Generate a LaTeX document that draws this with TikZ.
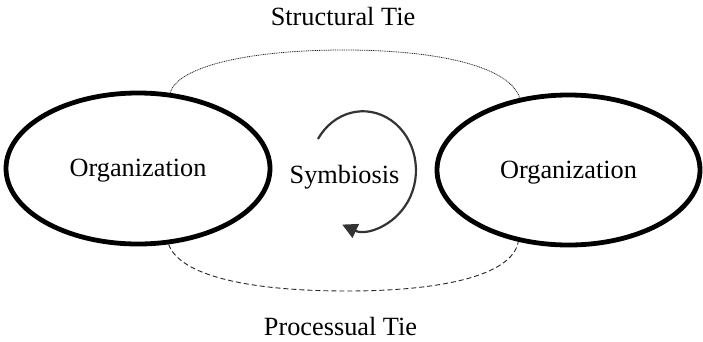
\documentclass[tikz,border=0pt]{standalone}
\usepackage{fontspec}
\setmainfont{Liberation Serif}
\usetikzlibrary{shapes.geometric,arrows.meta}
\begin{document}
\begin{tikzpicture}[x=1pt,y=-1pt,
  org/.style={ellipse,draw=black,line width=4.8pt,fill=none,inner sep=0pt,
    text height=22.5pt,text depth=5.7pt,font=\fontsize{26.3}{30}\selectfont},
  lbl/.style={anchor=base,inner sep=0pt,font=\fontsize{26.3}{30}\selectfont},
  structtie/.style={draw=black!85,line width=0.8pt,dash pattern=on 1pt off 0.8pt},
  proctie/.style={draw=black!85,line width=0.9pt,dash pattern=on 5pt off 3pt},
  cyclearrow/.style={draw=black!80,line width=2.2pt,
    -{Triangle[length=15pt,width=15pt]}}
]
\useasboundingbox (0,0) rectangle (703,341);
\node[org,minimum width=264pt,minimum height=151pt] (L) at (138,168.5) {Organization};
\node[org,minimum width=263pt,minimum height=150pt] (R) at (568.5,170) {Organization};
\node[lbl] (st) at (343,25) {Structural Tie};
\node[lbl] (pt) at (340.5,335) {Processual Tie};
\node[lbl] (sym) at (344.5,183) {Symbiosis};
% structural tie (top, dotted)
\coordinate (topmid) at (344,50);
\draw[structtie] (L.67) .. controls (178,66) and (250,50) .. (topmid)
  .. controls (430,50) and (508,64) .. (R.124);
% processual tie (bottom, dashed)
\coordinate (botmid) at (347,291);
\draw[proctie] (L.-68) .. controls (180,276) and (250,291) .. (botmid)
  .. controls (440,291) and (512,276) .. (R.235);
% symbiosis cycle arrow
\coordinate (cycstart) at (318,139);
\draw[cyclearrow] (cycstart) arc[start angle=-148,end angle=113,x radius=53,y radius=59];
\end{tikzpicture}
\end{document}
